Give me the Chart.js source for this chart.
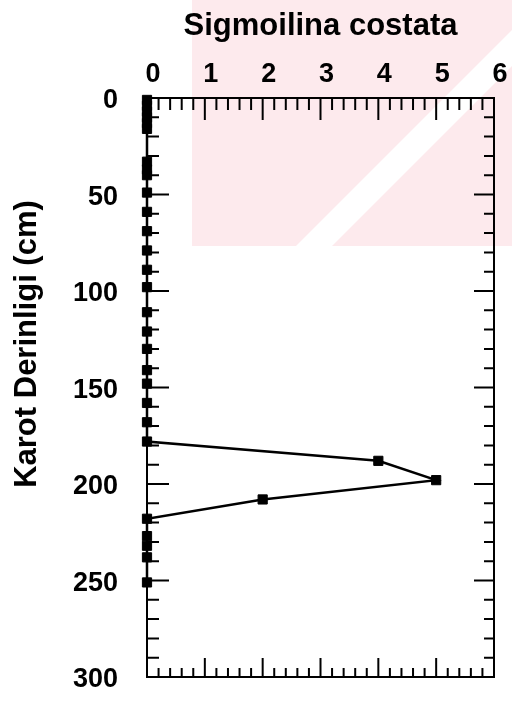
<!DOCTYPE html>
<html>
<head>
<meta charset="utf-8">
<script src="https://cdn.jsdelivr.net/npm/chart.js@4/dist/chart.umd.min.js"></script>
<style>
  html, body { margin: 0; padding: 0; background: #fff; }
  canvas { display: block; }
</style>
</head>
<body>
<canvas id="myChart" width="512" height="702"></canvas>
<script>
// core depth (cm) and Sigmoilina costata counts
const depths = [1, 4, 7, 10, 13, 16, 33, 37, 40, 49, 59, 69, 79, 89, 98, 111, 121, 130, 141, 148,
                158, 168, 178, 188, 198, 208, 218, 227, 232, 238, 251];
const counts = [0, 0, 0, 0, 0, 0, 0, 0, 0, 0, 0, 0, 0, 0, 0, 0, 0, 0, 0, 0,
                0, 0, 0, 4, 5, 2, 0, 0, 0, 0, 0];

const xMin = 0, xMax = 6, xMinor = 0.2;
const yMin = 0, yMax = 300, yMinor = 10, yMajor = 50;

const speciesName = 'Sigmoilina costata';
const depthTitle = 'Karot Derinligi (cm)';

const fontFamily = '"Liberation Sans", Arial, sans-serif';

let points = [];
for (let i = 0; i < depths.length; i++) {
    points.push({x: counts[i], y: depths[i]});
}

// faint stamp behind the plot
const stamp = {
    id: 'stamp',
    beforeDraw(chart) {
        const c = chart.ctx;
        c.save();
        c.beginPath();
        c.rect(192, 0, 320, 246);
        c.clip();
        c.fillStyle = 'rgb(253,234,237)';
        c.fillRect(192, 0, 320, 246);
        c.fillStyle = '#fff';
        c.beginPath();
        c.moveTo(296, 246);
        c.lineTo(332, 246);
        c.lineTo(578, 0);
        c.lineTo(542, 0);
        c.closePath();
        c.fill();
        c.restore();
    }
};

// box frame with inward ticks on all four sides, plus the depth title
const frame = {
    id: 'frame',
    afterDraw(chart) {
        const c = chart.ctx;
        const xs = chart.scales.x, ys = chart.scales.y;
        const l = xs.getPixelForValue(xMin), r = xs.getPixelForValue(xMax);
        const t = ys.getPixelForValue(yMin), b = ys.getPixelForValue(yMax);
        c.save();
        c.strokeStyle = '#000';
        c.lineWidth = 2;
        c.lineCap = 'square';
        c.strokeRect(l, t, r - l, b - t);

        c.beginPath();
        const nx = Math.round((xMax - xMin) / xMinor);
        for (let i = 1; i < nx; i++) {
            const v = xMin + i * xMinor;
            const px = xs.getPixelForValue(v);
            const len = i % 5 === 0 ? 21 : 11;
            c.moveTo(px, t); c.lineTo(px, t + len);
            c.moveTo(px, b); c.lineTo(px, b - len + 3);
        }
        const ny = Math.round((yMax - yMin) / yMinor);
        for (let i = 1; i < ny; i++) {
            const v = yMin + i * yMinor;
            const py = ys.getPixelForValue(v);
            const len = v % yMajor === 0 ? 21 : 11;
            c.moveTo(l, py); c.lineTo(l + len, py);
            c.moveTo(r, py); c.lineTo(r - len + 2, py);
        }
        c.stroke();

        c.translate(27, 344);
        c.rotate(-Math.PI / 2);
        c.fillStyle = '#000';
        c.font = 'bold 31px ' + fontFamily;
        c.textAlign = 'center';
        c.textBaseline = 'middle';
        c.fillText(depthTitle, 0, 0);
        c.restore();
    }
};

const config = {
    type: 'scatter',
    data: {
        datasets: [
            {
                label: speciesName,
                data: points,
                showLine: true,
                borderColor: '#000',
                borderWidth: 2.5,
                backgroundColor: '#000',
                pointStyle: 'rect',
                pointRadius: 6.5,
                pointBorderWidth: 1,
                pointBackgroundColor: '#000',
                pointBorderColor: '#000',
                tension: 0,
                clip: false,
            }
        ]
    },
    options: {
        responsive: false,
        animation: false,
        events: [],
        layout: {
            padding: {left: 0, right: 18, top: 0, bottom: 25}
        },
        plugins: {
            legend: {display: false},
            tooltip: {enabled: false},
        },
        scales: {
            x: {
                type: 'linear',
                position: 'top',
                min: xMin,
                max: xMax,
                afterFit: function (scale) {
                    scale.height = 98;
                    scale.paddingLeft = 0;
                    scale.paddingRight = 0;
                },
                grid: {display: false, drawTicks: false},
                border: {display: false},
                ticks: {
                    stepSize: 1,
                    padding: 7,
                    labelOffset: 6,
                    maxRotation: 0,
                    color: '#000',
                    font: {family: fontFamily, size: 27, weight: 'bold'},
                },
                title: {
                    display: true,
                    text: speciesName,
                    color: '#000',
                    padding: {top: 8, bottom: 0},
                    font: {family: fontFamily, size: 31, weight: 'bold'},
                },
            },
            y: {
                type: 'linear',
                reverse: true,
                min: yMin,
                max: yMax,
                afterFit: function (scale) {
                    scale.width = 147;
                    scale.paddingTop = 0;
                    scale.paddingBottom = 0;
                },
                grid: {display: false, drawTicks: false},
                border: {display: false},
                ticks: {
                    stepSize: yMajor,
                    padding: 29,
                    labelOffset: 3,
                    color: '#000',
                    font: {family: fontFamily, size: 27, weight: 'bold'},
                },
            },
        },
    },
    plugins: [stamp, frame],
};

const ctx = document.getElementById('myChart').getContext('2d');
const depthChart = new Chart(ctx, config);
</script>
</body>
</html>
